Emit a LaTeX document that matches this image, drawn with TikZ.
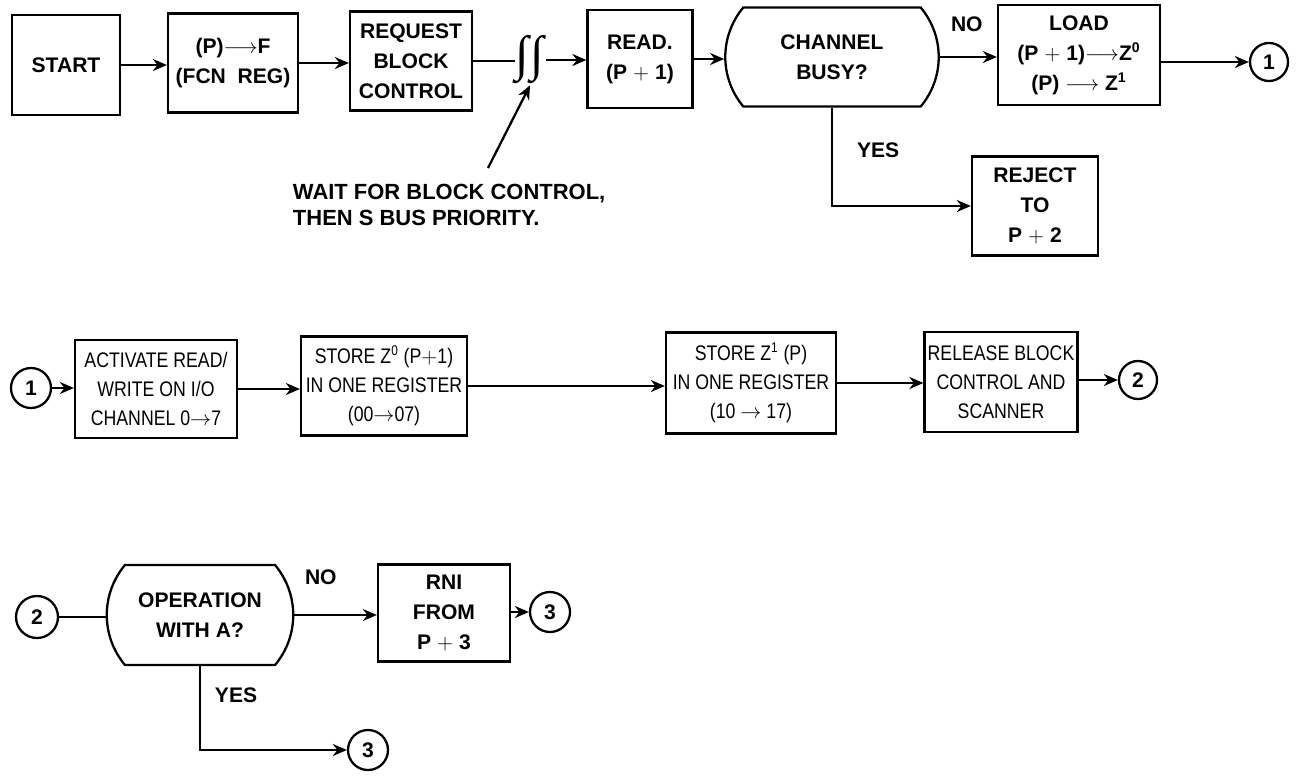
\documentclass[tikz,border=0pt]{standalone}
\usepackage{fontspec}
\setmainfont{Liberation Sans}
\newfontfamily\narrowsans[FakeStretch=0.84]{Liberation Sans}
\newfontfamily\integralfont{Liberation Serif}
\usetikzlibrary{arrows.meta,calc,positioning,shapes.misc}

\begin{document}
\begin{tikzpicture}[x=0.02cm,y=-0.02cm,>={Stealth[length=2.8mm,width=2.4mm]},line width=1.3pt,
  font=\bfseries\fontsize{12}{17}\selectfont,
  procbox/.style={draw,rectangle,align=center,inner sep=1pt},
  testbox/.style={draw,rounded rectangle,rounded rectangle arc length=80,align=center,inner sep=1pt},
  joint/.style={draw,circle,inner sep=0pt,minimum size=0.76cm},
  rowtwo/.style={font=\narrowsans\fontsize{12}{16.5}\selectfont}]
\useasboundingbox (0,0) rectangle (1296,778);

% first row: request and channel test
\node[procbox,minimum width=2.16cm,minimum height=2cm] (start) at (66,65) {START};
\node[procbox,minimum width=2.6cm,minimum height=1.98cm] (fcn) at (233,63) {(P)$\longrightarrow$F\\(FCN\ \ REG)};
\node[procbox,minimum width=2.44cm,minimum height=1.98cm] (req) at (411,61) {REQUEST\\BLOCK\\CONTROL};
\node[inner sep=0pt,font=\integralfont\fontsize{28}{28}\selectfont] (wait) at (530,60) {∫\kern1pt∫};
\node[procbox,minimum width=2.1cm,minimum height=1.96cm] (read) at (640,59) {READ.\\(P $+$ 1)};
\node[testbox,minimum width=4.34cm,minimum height=1.98cm] (busy) at (832,57) {CHANNEL\\BUSY?};
\node[procbox,minimum width=3.24cm,minimum height=2cm] (load) at (1079,55) {LOAD\\(P $+$ 1)$\longrightarrow$Z\textsuperscript{0}\\(P) $\longrightarrow$ Z\textsuperscript{1}};
\node[joint] (c1a) at (1269,62) {1};
\node[procbox,minimum width=2.52cm,minimum height=1.98cm] (reject) at (1035,206) {REJECT\\TO\\P $+$ 2};
\node[anchor=west] (no1) at (944,24) {NO};
\node[anchor=west] (yes1) at (850,150) {YES};
\node[anchor=north west,align=left,font=\bfseries\fontsize{12.5}{15}\selectfont] (note) at (286,177) {WAIT FOR BLOCK CONTROL,\\THEN S BUS PRIORITY.};
\coordinate (tail) at (488,168);

\draw[->] (start.east) -- (start.east -| fcn.west);
\draw[->] (fcn.east) -- (fcn.east -| req.west);
\draw (req.east) -- (req.east -| wait.west);
\draw[->] (wait.east) -- (wait.east -| read.west);
\draw[->] (read.east) -- (read.east -| busy.west);
\draw[->] (busy.east) -- (busy.east -| load.west);
\draw[->] (load.east |- c1a) -- (c1a);
\draw[->] (busy.south) |- (reject.west);
\draw[->] (tail) -- (wait.south);

% second row: store and release
\node[joint,minimum size=0.8cm] (c1b) at (31,388) {1};
\node[procbox,rowtwo,minimum width=3.24cm,minimum height=1.96cm] (act) at (156,389) {ACTIVATE READ/\\WRITE ON I/O\\CHANNEL 0$\rightarrow$7};
\node[procbox,rowtwo,minimum width=3.32cm,minimum height=1.98cm] (store0) at (384,386) {STORE Z\textsuperscript{0} (P$+$1)\\IN ONE REGISTER\\(00$\rightarrow$07)};
\node[procbox,rowtwo,minimum width=3.4cm,minimum height=2.02cm] (store1) at (751,383) {STORE Z\textsuperscript{1} (P)\\IN ONE REGISTER\\(10 $\rightarrow$ 17)};
\node[procbox,rowtwo,minimum width=3.06cm,minimum height=2cm] (release) at (1001,382) {RELEASE BLOCK\\CONTROL AND\\SCANNER};
\node[joint] (c2a) at (1138,380) {2};

\draw[->] (c1b) -- (c1b -| act.west);
\draw[->] (act.east) -- (act.east -| store0.west);
\draw[->] (store0.east) -- (store0.east -| store1.west);
\draw[->] (store1.east) -- (store1.east -| release.west);
\draw[->] (release.east |- c2a) -- (c2a);

% third row: operation test
\node[joint,minimum size=0.84cm] (c2b) at (37,617) {2};
\node[testbox,minimum width=3.8cm,minimum height=2cm] (opa) at (200,615) {OPERATION\\WITH A?};
\node[procbox,minimum width=2.64cm,minimum height=1.94cm] (rni) at (444,613) {RNI\\FROM\\P $+$ 3};
\node[joint,minimum size=0.8cm] (c3a) at (550,612) {3};
\node[joint,minimum size=0.8cm] (c3b) at (368,750) {3};
\node[anchor=west] (no2) at (298,577) {NO};
\node[anchor=west] (yes2) at (208,695) {YES};

\draw (c2b) -- (c2b -| opa.west);
\draw[->] (opa.east) -- (opa.east -| rni.west);
\draw[->] (rni.east |- c3a) -- (c3a);
\draw[->] (opa.south) |- (c3b);
\end{tikzpicture}
\end{document}
